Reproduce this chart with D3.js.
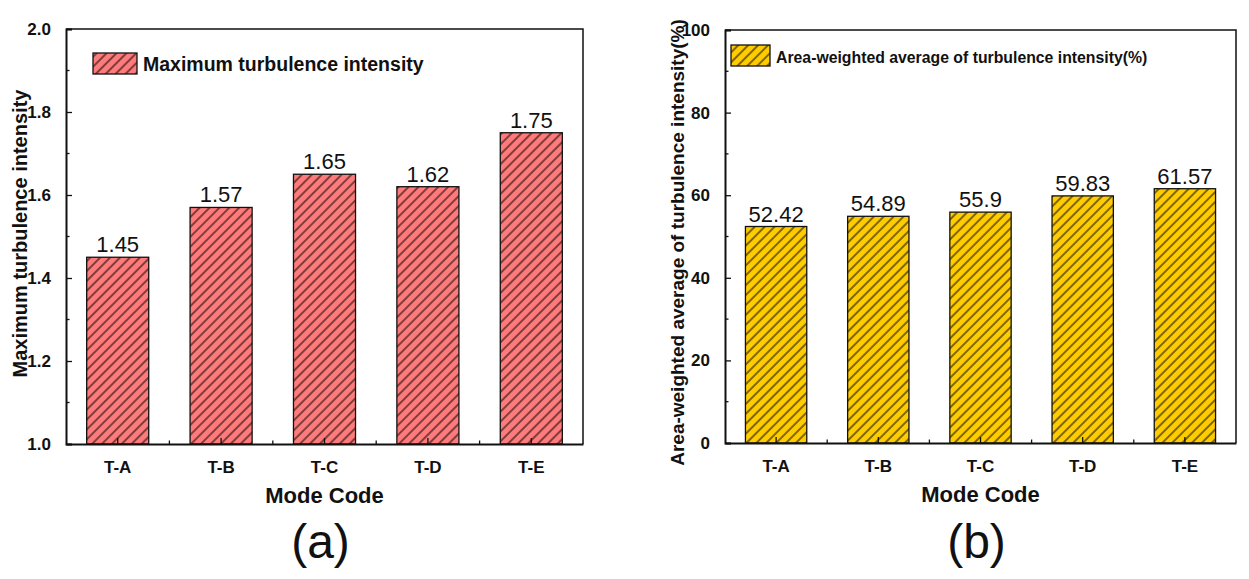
<!DOCTYPE html>
<html>
<head>
<meta charset="utf-8">
<script src="https://cdn.jsdelivr.net/npm/d3@7"></script>
<style>
  body { margin: 0; background: #fff; }
  svg text { font-family: Arial, "Liberation Sans", sans-serif; }
</style>
</head>
<body>
<div id="chart"></div>
<script>
// Data
const modeCodes = ["T-A", "T-B", "T-C", "T-D", "T-E"];
const maxIntensity = [1.45, 1.57, 1.65, 1.62, 1.75];
const avgIntensity = [52.42, 54.89, 55.9, 59.83, 61.57];
const maxTickValues = [1.0, 1.2, 1.4, 1.6, 1.8, 2.0];
const avgTickValues = [0, 20, 40, 60, 80, 100];

const svg = d3.select("#chart").append("svg")
    .attr("width", 1249)
    .attr("height", 579);

const defs = svg.append("defs");

function hatch(id, fill) {
    const p = defs.append("pattern")
        .attr("id", id)
        .attr("patternUnits", "userSpaceOnUse")
        .attr("width", 7)
        .attr("height", 10)
        .attr("patternTransform", "rotate(45)");
    p.append("rect").attr("width", 7).attr("height", 10).attr("fill", fill);
    p.append("line")
        .attr("x1", 1).attr("x2", 1)
        .attr("y1", 0).attr("y2", 10)
        .attr("stroke", "#000")
        .attr("stroke-width", 1);
}
hatch("hatch-red", "#ff7a7a");
hatch("hatch-yellow", "#ffcc00");

/**
 * Draw one bar panel inside a frame box
 */
function drawPanel(opt) {
    const { x0, x1, y0, y1 } = opt.box;
    const g = svg.append("g");

    const x = d3.scaleBand()
        .domain(modeCodes)
        .range([x0, x1])
        .paddingInner(0.4)
        .paddingOuter(0.2);

    const y = d3.scaleLinear()
        .domain(opt.domain)
        .range([y1, y0]);

    // Bars
    g.selectAll("rect.bar")
        .data(opt.values)
        .join("rect")
        .attr("class", "bar")
        .attr("x", (d, i) => x(modeCodes[i]))
        .attr("y", d => y(d))
        .attr("width", x.bandwidth())
        .attr("height", d => y(opt.domain[0]) - y(d))
        .attr("fill", `url(#${opt.pattern})`)
        .attr("stroke", "#111")
        .attr("stroke-width", 1.3);

    // Value labels
    g.selectAll("text.val")
        .data(opt.values)
        .join("text")
        .attr("class", "val")
        .attr("x", (d, i) => x(modeCodes[i]) + x.bandwidth() / 2)
        .attr("y", d => y(d) - 5)
        .attr("text-anchor", "middle")
        .attr("font-size", "22px")
        .attr("fill", "#111")
        .text(d => String(d));

    // Frame (top and right)
    g.append("path")
        .attr("d", `M${x0},${y0}H${x1}V${y1}`)
        .attr("fill", "none")
        .attr("stroke", "#111")
        .attr("stroke-width", 1.5);

    // Y axis, ticks inward
    const yAxis = g.append("g")
        .attr("transform", `translate(${x0},0)`)
        .call(d3.axisLeft(y)
            .tickValues(opt.ticks)
            .tickSize(-6)
            .tickPadding(15)
            .tickFormat(opt.format));
    yAxis.select(".domain").attr("stroke", "#111").attr("stroke-width", 2);
    yAxis.selectAll(".tick line").attr("stroke", "#111").attr("stroke-width", 1.3);
    yAxis.selectAll(".tick text")
        .attr("font-size", "17px")
        .attr("font-weight", "bold")
        .attr("fill", "#111");

    // Minor y ticks
    const step = opt.ticks[1] - opt.ticks[0];
    const minorY = opt.ticks.slice(0, -1).map(t => t + step / 2);
    g.selectAll("line.minor-y")
        .data(minorY)
        .join("line")
        .attr("class", "minor-y")
        .attr("x1", x0).attr("x2", x0 + 3.5)
        .attr("y1", d => y(d)).attr("y2", d => y(d))
        .attr("stroke", "#111")
        .attr("stroke-width", 1.3);

    // X axis, ticks inward
    const xAxis = g.append("g")
        .attr("transform", `translate(0,${y1})`)
        .call(d3.axisBottom(x).tickSize(-6).tickPadding(17).tickSizeOuter(0));
    xAxis.select(".domain").attr("stroke", "#111").attr("stroke-width", 2);
    xAxis.selectAll(".tick line").attr("stroke", "#111").attr("stroke-width", 1.3);
    xAxis.selectAll(".tick text")
        .attr("font-size", "17px")
        .attr("font-weight", "bold")
        .attr("fill", "#111");

    // Minor x ticks between categories
    const minorX = modeCodes.slice(1).map(c => x(c) - x.step() * x.paddingInner() / 2);
    g.selectAll("line.minor-x")
        .data(minorX)
        .join("line")
        .attr("class", "minor-x")
        .attr("x1", d => d).attr("x2", d => d)
        .attr("y1", y1).attr("y2", y1 - 3.5)
        .attr("stroke", "#111")
        .attr("stroke-width", 1.3);

    // Axis titles
    g.append("text")
        .attr("x", (x0 + x1) / 2)
        .attr("y", y1 + 59)
        .attr("text-anchor", "middle")
        .attr("font-size", "22px")
        .attr("font-weight", "bold")
        .attr("fill", "#111")
        .text("Mode Code");

    g.append("text")
        .attr("transform", `translate(${opt.yTitleX},${(y0 + y1) / 2 + opt.yTitleShift}) rotate(-90)`)
        .attr("text-anchor", "middle")
        .attr("font-size", opt.yTitleSize)
        .attr("font-weight", "bold")
        .attr("fill", "#111")
        .text(opt.yTitle);

    // Legend
    const lg = opt.legend;
    g.append("rect")
        .attr("x", lg.x).attr("y", lg.y)
        .attr("width", lg.w).attr("height", lg.h)
        .attr("fill", `url(#${opt.pattern})`)
        .attr("stroke", "#111")
        .attr("stroke-width", 1.3);
    g.append("text")
        .attr("x", lg.x + lg.w + 6)
        .attr("y", lg.y + lg.h - 3)
        .attr("font-size", lg.size)
        .attr("font-weight", "bold")
        .attr("fill", "#111")
        .text(opt.legendText);

    // Panel letter
    g.append("text")
        .attr("x", (x0 + x1) / 2 - 4)
        .attr("y", 558)
        .attr("text-anchor", "middle")
        .attr("font-size", "48px")
        .attr("fill", "#111")
        .text(opt.letter);
}

drawPanel({
    box: { x0: 66, x1: 583, y0: 29, y1: 444 },
    values: maxIntensity,
    domain: [1.0, 2.0],
    ticks: maxTickValues,
    format: d3.format(".1f"),
    pattern: "hatch-red",
    yTitle: "Maximum turbulence intensity",
    yTitleX: 27,
    yTitleShift: -3,
    yTitleSize: "20px",
    legend: { x: 93, y: 53, w: 44, h: 21, size: "19.5px" },
    legendText: "Maximum turbulence intensity",
    letter: "(a)"
});

drawPanel({
    box: { x0: 725, x1: 1236, y0: 30, y1: 443 },
    values: avgIntensity,
    domain: [0, 100],
    ticks: avgTickValues,
    format: d3.format("d"),
    pattern: "hatch-yellow",
    yTitle: "Area-weighted average of turbulence intensity(%)",
    yTitleX: 684,
    yTitleShift: 6,
    yTitleSize: "19px",
    legend: { x: 731, y: 45, w: 39, h: 21, size: "15.8px" },
    legendText: "Area-weighted average of turbulence intensity(%)",
    letter: "(b)"
});
</script>
</body>
</html>
